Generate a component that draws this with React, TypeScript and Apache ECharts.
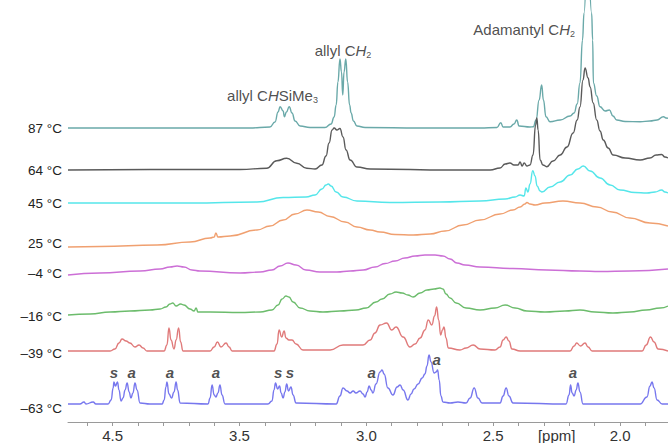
import React, { useEffect, useRef } from "react";
import * as echarts from "echarts";

// x axis range (ppm, plotted inverted)
const xMin = 1.811;
const xMax = 4.176;
const tickValues = [4.1, 4.0, 3.9, 3.8, 3.7, 3.6, 3.5, 3.4, 3.3, 3.2, 3.1, 3.0, 2.9, 2.8, 2.7, 2.6, 2.5, 2.4, 2.3, 2.2, 2.1, 2.0, 1.9];
const labelValues = [4.0, 3.5, 3.0, 2.5, 2.25, 2.0];
const labelTexts = ["4.5", "3.5", "3.0", "2.5", "[ppm]", "2.0"];

// traces: top (87 °C) to bottom (-63 °C)
const temps = ["87 °C", "64 °C", "45 °C", "25 °C", "–4 °C", "–16 °C", "–39 °C", "–63 °C"];
const tempLabelPos = [294, 252, 219, 179, 149, 106, 69, 14];
const traceOffsets = [294, 252, 219, 175, 147, 107, 71, 18];
const traceColors = ["#6aa9a9", "#5a5a5a", "#55e6ea", "#f0a070", "#cc6fd6", "#6cbc6c", "#e07a7a", "#7777ee"];

const t87: [number, number][] = [
  [4.176, 0], [3.853, 0], [3.459, 0], [3.38, 1], [3.36, 6], [3.348, 16], [3.34, 21.3], [3.328, 17], [3.323, 11.3],
  [3.315, 16], [3.304, 21.3], [3.293, 15], [3.281, 7], [3.261, 2], [3.222, 0.5], [3.163, 0.5], [3.139, 4], [3.127, 11],
  [3.119, 23], [3.112, 46], [3.104, 69], [3.098, 56], [3.093, 33], [3.088, 56], [3.081, 69], [3.074, 46], [3.066, 23],
  [3.06, 15], [3.051, 7], [3.037, 2], [3.005, 0.5], [2.788, 0], [2.552, 0], [2.485, 0.5], [2.47, 5.3], [2.461, 1],
  [2.434, 1], [2.418, 4], [2.407, 8], [2.398, 2], [2.355, 1], [2.342, 1.3], [2.331, 8], [2.319, 28], [2.309, 43],
  [2.302, 28], [2.292, 11.3], [2.276, 6.3], [2.236, 8], [2.197, 12], [2.181, 15], [2.169, 24], [2.158, 45], [2.148, 88],
  [2.142, 115], [2.128, 188], [2.112, 115], [2.108, 88], [2.105, 45], [2.092, 32], [2.079, 21.3], [2.059, 17],
  [2.042, 18], [2.028, 12], [2.013, 8], [1.98, 6.5], [1.921, 6.3], [1.882, 7], [1.854, 8], [1.829, 11.3], [1.819, 10],
  [1.811, 9.7],
];

const t64: [number, number][] = [
  [4.176, 0], [3.853, 0.5], [3.498, 0.5], [3.393, 1.7], [3.353, 9.3], [3.314, 11.7], [3.274, 6.7], [3.235, 1.7],
  [3.202, 1], [3.175, 5], [3.159, 14], [3.147, 27], [3.135, 40], [3.127, 42], [3.116, 40], [3.104, 41.5], [3.092, 33],
  [3.08, 20], [3.064, 10], [3.037, 3], [2.985, 1], [2.67, 0], [2.512, 0], [2.473, 2], [2.453, 6], [2.434, 7],
  [2.418, 5], [2.402, 5], [2.394, 8], [2.386, 4], [2.378, 7], [2.367, 4], [2.355, 5], [2.343, 15], [2.333, 45],
  [2.328, 52], [2.323, 40], [2.315, 10], [2.304, 5], [2.289, 3.3], [2.264, 9], [2.236, 15], [2.209, 23], [2.185, 37],
  [2.169, 50], [2.158, 63], [2.146, 90], [2.138, 102], [2.126, 92], [2.118, 83], [2.106, 67], [2.092, 50], [2.079, 39],
  [2.066, 30], [2.047, 22], [2.027, 15], [1.98, 12], [1.921, 10], [1.882, 12], [1.858, 15], [1.836, 15.5], [1.823, 13],
  [1.811, 12],
];

const t45: [number, number][] = [
  [4.176, 0], [3.695, 0], [3.431, 1], [3.328, 5.5], [3.238, 6], [3.202, 8], [3.175, 14], [3.159, 18], [3.15, 19],
  [3.139, 17], [3.119, 11], [3.092, 6], [3.037, 2], [2.907, 0.5], [2.71, 1], [2.552, 2], [2.453, 4], [2.414, 6],
  [2.394, 8], [2.378, 7], [2.371, 15], [2.363, 11], [2.355, 19], [2.344, 32.3], [2.335, 27], [2.327, 17], [2.315, 12],
  [2.308, 11], [2.276, 16], [2.236, 21], [2.197, 28], [2.166, 34], [2.145, 37], [2.118, 32], [2.079, 25], [2.039, 18],
  [2.0, 13], [1.941, 10.5], [1.894, 10], [1.862, 11], [1.836, 13], [1.823, 11], [1.811, 10],
];

const t25: [number, number][] = [
  [4.176, 0], [4.05, 0.5], [3.825, 2], [3.695, 5], [3.616, 9], [3.6, 10], [3.593, 14], [3.585, 10], [3.537, 11],
  [3.431, 17], [3.38, 21], [3.328, 27], [3.281, 33], [3.234, 37], [3.19, 35], [3.143, 30.5], [3.084, 25], [3.037, 20],
  [2.985, 17], [2.946, 15], [2.887, 12.5], [2.816, 12], [2.749, 13], [2.69, 16], [2.619, 22], [2.552, 27], [2.473, 33],
  [2.422, 37], [2.394, 40], [2.375, 43], [2.367, 44.5], [2.355, 43], [2.335, 42], [2.296, 44], [2.225, 46], [2.158, 44],
  [2.091, 40], [2.031, 35], [1.961, 29], [1.882, 24], [1.811, 21],
];

const tm4: [number, number][] = [
  [4.176, 0], [4.05, 2], [3.892, 4], [3.813, 6], [3.774, 8], [3.746, 9], [3.719, 8], [3.687, 5], [3.656, 4], [3.498, 2],
  [3.419, 3], [3.372, 5], [3.34, 9], [3.309, 12], [3.277, 10], [3.238, 5], [3.183, 3], [3.116, 3], [3.064, 4],
  [3.013, 5], [2.966, 8], [2.926, 11.5], [2.887, 14], [2.848, 17], [2.808, 19], [2.769, 20], [2.729, 20], [2.698, 19],
  [2.67, 16], [2.643, 12], [2.611, 10], [2.552, 8], [2.422, 6.5], [2.288, 5], [2.158, 4], [2.079, 3.5], [1.961, 4],
  [1.811, 6],
];

const tm16: [number, number][] = [
  [4.176, 0], [4.089, 1], [4.01, 3], [3.932, 4], [3.853, 5], [3.813, 6], [3.79, 8], [3.774, 11], [3.763, 12], [3.75, 9],
  [3.732, 11], [3.719, 10], [3.695, 6], [3.679, 4], [3.671, 7], [3.664, 3], [3.616, 3], [3.498, 2.5], [3.419, 3],
  [3.372, 5], [3.348, 10], [3.332, 16], [3.317, 19], [3.305, 18], [3.289, 13], [3.261, 7], [3.222, 4], [3.171, 3],
  [3.104, 4], [3.041, 5], [3.001, 7], [2.962, 13], [2.938, 16], [2.907, 21], [2.883, 23], [2.859, 22], [2.836, 20],
  [2.816, 18], [2.788, 22], [2.761, 25], [2.733, 26], [2.71, 27], [2.698, 26], [2.686, 21], [2.67, 17], [2.646, 12],
  [2.607, 7], [2.552, 5], [2.493, 7], [2.453, 10], [2.414, 7], [2.367, 4], [2.296, 3], [2.217, 4], [2.158, 5],
  [2.099, 3], [2.028, 2], [1.961, 3], [1.897, 5], [1.842, 7], [1.811, 9],
];

const tm39: [number, number][] = [
  [4.176, 0], [4.01, 0], [3.991, 2], [3.975, 8], [3.963, 12], [3.947, 10], [3.932, 8], [3.912, 4], [3.896, 6],
  [3.88, 3], [3.865, 0], [3.797, 0], [3.786, 6], [3.778, 23], [3.77, 11], [3.758, 2], [3.75, 11], [3.74, 23],
  [3.732, 9], [3.723, 0], [3.616, 0], [3.6, 4], [3.587, 9], [3.573, 4], [3.553, 8], [3.541, 4], [3.529, 0], [3.364, 0],
  [3.352, 7], [3.344, 21], [3.334, 14], [3.324, 20], [3.317, 13], [3.305, 11], [3.293, 11], [3.277, 7], [3.25, 1],
  [3.143, 1], [3.092, 6], [3.013, 6], [2.985, 11], [2.966, 18], [2.946, 26], [2.92, 28], [2.9, 21], [2.883, 24],
  [2.855, 14], [2.828, 4], [2.808, 7], [2.788, 13], [2.769, 21], [2.756, 31], [2.742, 26], [2.731, 35], [2.723, 44],
  [2.715, 31], [2.707, 16], [2.7, 21], [2.694, 24], [2.686, 13], [2.677, 3], [2.631, 1], [2.607, 3], [2.579, 6],
  [2.552, 2], [2.493, 1], [2.473, 4], [2.461, 11], [2.449, 14], [2.438, 10], [2.426, 2], [2.394, 0], [2.197, 0],
  [2.181, 5], [2.171, 8], [2.156, 5], [2.138, 8], [2.126, 4], [2.11, 0], [1.913, 0], [1.897, 6], [1.88, 14], [1.866, 9],
  [1.85, 2], [1.811, 0],
];

const tm63: [number, number][] = [
  [4.176, 0], [4.129, 0], [4.113, 2], [4.105, 0], [4.077, 2], [4.066, 0], [4.018, 0], [4.006, 4], [3.998, 16],
  [3.995, 22], [3.989, 18], [3.981, 22], [3.975, 14], [3.967, 3], [3.959, 6], [3.951, 14], [3.943, 21], [3.935, 12],
  [3.928, 6], [3.92, 11], [3.912, 21], [3.904, 14], [3.892, 1], [3.853, 0], [3.805, 0], [3.797, 4], [3.79, 17],
  [3.786, 22], [3.778, 10], [3.768, 6], [3.758, 12], [3.75, 22], [3.744, 14], [3.734, 1], [3.624, 0], [3.616, 6],
  [3.608, 19], [3.6, 9], [3.593, 7], [3.585, 11], [3.577, 19], [3.569, 9], [3.557, 0], [3.388, 0], [3.372, 3],
  [3.364, 14], [3.358, 21], [3.35, 15], [3.342, 18], [3.336, 11], [3.328, 6], [3.321, 12], [3.314, 20], [3.307, 13],
  [3.297, 17], [3.289, 9], [3.277, 1], [3.119, 0], [3.104, 8], [3.092, 16], [3.076, 13], [3.064, 11], [3.052, 13],
  [3.041, 11], [3.025, 13], [3.013, 10], [3.005, 7], [2.997, 12], [2.989, 18], [2.981, 14], [2.974, 11], [2.962, 20],
  [2.946, 32], [2.938, 34], [2.93, 30], [2.915, 16], [2.895, 9], [2.879, 17], [2.867, 19], [2.855, 14], [2.836, 4],
  [2.824, 10], [2.812, 15], [2.796, 20], [2.78, 26], [2.769, 30], [2.761, 38], [2.753, 49], [2.745, 42], [2.733, 31],
  [2.725, 32], [2.719, 34], [2.713, 24], [2.706, 8], [2.698, 2], [2.67, 1], [2.639, 2], [2.607, 1], [2.591, 6],
  [2.575, 16], [2.56, 6], [2.544, 1], [2.473, 1], [2.461, 8], [2.449, 16], [2.438, 8], [2.422, 1], [2.213, 0],
  [2.201, 9], [2.195, 19], [2.189, 11], [2.181, 8], [2.173, 14], [2.166, 21], [2.158, 12], [2.146, 0], [1.921, 0],
  [1.894, 7], [1.882, 18], [1.874, 22], [1.866, 16], [1.854, 4], [1.834, 0], [1.811, 0],
];

const traces = [t87, t64, t45, t25, tm4, tm16, tm39, tm63];

// annotations: text, ppm, vertical position
const noteTexts = ["{n|allyl C}{i|H}{n|SiMe}{s|3}", "{n|allyl C}{i|H}{s|2}", "{n|Adamantyl C}{i|H}{s|2}"];
const notePpm = [3.37, 3.092, 2.378];
const noteY = [327, 372, 393];

const peakTags = ["s", "a", "a", "a", "s", "s", "a", "a", "a"];
const peakTagPpm = [3.995, 3.925, 3.774, 3.593, 3.348, 3.301, 2.979, 2.723, 2.186];
const peakTagY = [50, 50, 50, 50, 50, 50, 50, 63, 50];

const FONT = "'Liberation Sans', Arial, sans-serif";

export default function App() {
  const ref = useRef<HTMLDivElement>(null);
  useEffect(() => {
    if (!ref.current) return;
    const chart = echarts.init(ref.current, undefined, { renderer: "svg" });
    const lineSeries = traces.map((pts, i) => ({
      type: "line",
      name: temps[i],
      data: pts.map(([p, h]) => [p, h + traceOffsets[i]]),
      showSymbol: false,
      smooth: 0.5,
      smoothMonotone: "x",
      clip: true,
      silent: true,
      lineStyle: { color: traceColors[i], width: 1.4 },
      z: 2,
    }));
    const rich = {
      n: { fontSize: 15, color: "#222", fontFamily: FONT, lineHeight: 18 },
      i: { fontSize: 15, color: "#222", fontFamily: FONT, fontStyle: "italic", lineHeight: 18 },
      s: { fontSize: 9, color: "#222", fontFamily: FONT, lineHeight: 9, verticalAlign: "bottom" },
    };
    const noteSeries = {
      type: "scatter",
      symbolSize: 1,
      silent: true,
      itemStyle: { color: "rgba(0,0,0,0)" },
      z: 5,
      data: noteTexts.map((t, i) => ({
        value: [notePpm[i], noteY[i]],
        label: { show: true, position: "inside", formatter: t, rich },
      })),
    };
    const tagSeries = {
      type: "scatter",
      symbolSize: 1,
      silent: true,
      itemStyle: { color: "rgba(0,0,0,0)" },
      z: 5,
      data: peakTags.map((t, i) => ({
        value: [peakTagPpm[i], peakTagY[i]],
        label: {
          show: true,
          position: "inside",
          formatter: t,
          fontSize: 15,
          fontStyle: "italic",
          fontWeight: "bold",
          color: "#222",
          fontFamily: FONT,
        },
      })),
    };
    chart.setOption({
      animation: false,
      backgroundColor: "#fff",
      grid: { left: 68, right: 0, top: 0, bottom: 21 },
      xAxis: {
        type: "value",
        inverse: true,
        min: xMin,
        max: xMax,
        axisLine: { show: true, lineStyle: { color: "#9a9a9a", width: 1 } },
        axisTick: { show: true, length: 4, lineStyle: { color: "#9a9a9a" }, customValues: tickValues },
        splitLine: { show: false },
        axisLabel: {
          customValues: labelValues,
          margin: 6,
          fontSize: 15,
          color: "#333",
          fontFamily: FONT,
          formatter: (v: number) => {
            const k = labelValues.findIndex((x) => Math.abs(x - v) < 1e-6);
            return k >= 0 ? labelTexts[k] : "";
          },
        },
      },
      yAxis: {
        type: "value",
        min: 0,
        max: 422,
        axisLine: { show: false },
        axisTick: { show: false },
        splitLine: { show: false },
        axisLabel: {
          customValues: tempLabelPos,
          margin: 6,
          fontSize: 13.5,
          color: "#222",
          fontFamily: FONT,
          formatter: (v: number) => {
            const k = tempLabelPos.findIndex((x) => Math.abs(x - v) < 1e-6);
            return k >= 0 ? temps[k] : "";
          },
        },
      },
      series: [...lineSeries, noteSeries, tagSeries],
    });
    return () => chart.dispose();
  }, []);
  return (
    <div
      ref={ref}
      style={{ position: "fixed", left: 0, top: 0, width: 668, height: 443, background: "#fff" }}
    />
  );
}
